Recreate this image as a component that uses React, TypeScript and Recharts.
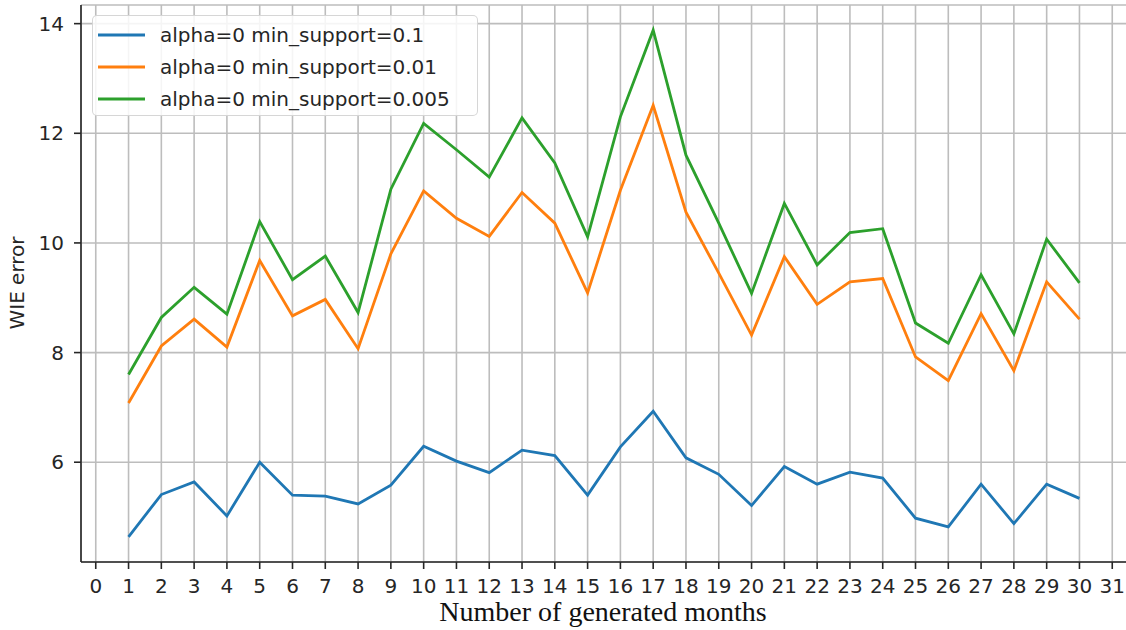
import { LineChart, Line, XAxis, YAxis, CartesianGrid, Legend } from "recharts";

// WIE error per number of generated months, alpha=0, three min_support levels
const months = [
  1, 2, 3, 4, 5, 6, 7, 8, 9, 10, 11, 12, 13, 14, 15,
  16, 17, 18, 19, 20, 21, 22, 23, 24, 25, 26, 27, 28, 29, 30,
];

const support01 = [
  4.64, 5.41, 5.64, 5.02, 6.0, 5.4, 5.38, 5.24, 5.58, 6.29, 6.02, 5.81, 6.22, 6.12, 5.4,
  6.28, 6.93, 6.08, 5.78, 5.21, 5.92, 5.6, 5.82, 5.71, 4.98, 4.82, 5.6, 4.88, 5.6, 5.34,
];

const support001 = [
  7.08, 8.12, 8.61, 8.1, 9.68, 8.67, 8.97, 8.07, 9.8, 10.95, 10.45, 10.12, 10.92, 10.36, 9.09,
  10.96, 12.51, 10.56, 9.45, 8.32, 9.75, 8.88, 9.29, 9.35, 7.92, 7.49, 8.71, 7.67, 9.29, 8.61,
];

const support0005 = [
  7.6, 8.64, 9.19, 8.7, 10.39, 9.33, 9.76, 8.73, 10.98, 12.18, 11.7, 11.2, 12.28, 11.46, 10.11,
  12.3, 13.88, 11.6, 10.36, 9.08, 10.72, 9.6, 10.19, 10.26, 8.54, 8.17, 9.42, 8.34, 10.07, 9.27,
];

const xTicks = [
  0, 1, 2, 3, 4, 5, 6, 7, 8, 9, 10, 11, 12, 13, 14, 15,
  16, 17, 18, 19, 20, 21, 22, 23, 24, 25, 26, 27, 28, 29, 30, 31,
];
const yTicks = [6, 8, 10, 12, 14];

const SERIES = [
  { key: "s01", name: "alpha=0 min_support=0.1", color: "#1f77b4" },
  { key: "s001", name: "alpha=0 min_support=0.01", color: "#ff7f0e" },
  { key: "s0005", name: "alpha=0 min_support=0.005", color: "#2ca02c" },
];

const rows = months.map((m, i) => ({
  month: m,
  s01: support01[i],
  s001: support001[i],
  s0005: support0005[i],
}));

const FONT = "'DejaVu Sans', sans-serif";
const INK = "#262626";
const tickStyle = { fontFamily: FONT, fontSize: 20, fill: INK };

function LegendBox() {
  return (
    <div
      style={{
        position: "absolute",
        left: 92,
        top: 15,
        width: 386,
        height: 101,
        boxSizing: "border-box",
        border: "1.6px solid rgba(204,204,204,0.8)",
        borderRadius: 5,
        background: "rgba(255,255,255,0.85)",
        fontFamily: FONT,
        fontSize: 20,
        color: INK,
        paddingTop: 3,
      }}
    >
      {SERIES.map((s) => (
        <div
          key={s.key}
          style={{ display: "flex", alignItems: "center", height: 32 }}
        >
          <svg width={63} height={10} style={{ marginLeft: 4 }}>
            <line x1={1} y1={5} x2={48} y2={5} stroke={s.color} strokeWidth={3} />
          </svg>
          <span>{s.name}</span>
        </div>
      ))}
    </div>
  );
}

export default function App() {
  return (
    <div
      style={{
        position: "absolute",
        left: 0,
        top: 0,
        width: 1126,
        height: 630,
        overflow: "hidden",
        background: "#fff",
      }}
    >
      <LineChart
        width={1130}
        height={630}
        data={rows}
        margin={{ top: 5, right: 3, bottom: 0, left: 1 }}
      >
        <CartesianGrid stroke="#bdbdbd" strokeWidth={1.6} />
        <XAxis
          dataKey="month"
          type="number"
          domain={[-0.45, 31.45]}
          ticks={xTicks}
          interval={0}
          height={68}
          tickSize={7}
          tickMargin={10}
          tick={tickStyle}
          stroke={INK}
          strokeWidth={1.6}
          allowDataOverflow
        />
        <XAxis
          xAxisId="top"
          orientation="top"
          type="number"
          domain={[-0.45, 31.45]}
          height={0}
          tick={false}
          tickLine={false}
          stroke={INK}
          strokeWidth={1.6}
        />
        <YAxis
          type="number"
          domain={[4.18, 14.34]}
          ticks={yTicks}
          width={80}
          tickSize={7}
          tickMargin={10}
          tick={tickStyle}
          stroke={INK}
          strokeWidth={1.6}
          allowDataOverflow
        />
        <Legend content={() => null} />
        {SERIES.map((s) => (
          <Line
            key={s.key}
            dataKey={s.key}
            name={s.name}
            stroke={s.color}
            strokeWidth={2.8}
            dot={false}
            activeDot={false}
            isAnimationActive={false}
          />
        ))}
      </LineChart>
      <LegendBox />
      <div
        style={{
          position: "absolute",
          left: 17,
          top: 283,
          transform: "translate(-50%, -50%) rotate(-90deg)",
          fontFamily: FONT,
          fontSize: 20,
          color: INK,
          whiteSpace: "nowrap",
        }}
      >
        WIE error
      </div>
      <div
        style={{
          position: "absolute",
          left: 603,
          top: 597,
          transform: "translateX(-50%)",
          fontFamily: "'Liberation Serif', 'Times New Roman', serif",
          fontSize: 28,
          lineHeight: "30px",
          color: "#111",
          whiteSpace: "nowrap",
        }}
      >
        Number of generated months
      </div>
    </div>
  );
}
